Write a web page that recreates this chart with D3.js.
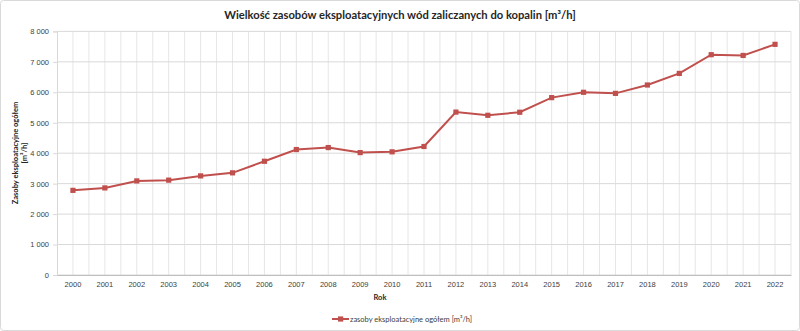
<!DOCTYPE html>
<html><head><meta charset="utf-8">
<script src="https://cdn.jsdelivr.net/npm/d3@7"></script>
<style>body{margin:0;background:#fff}svg{display:block}</style>
</head><body>
<script>
const years = ["2000","2001","2002","2003","2004","2005","2006","2007","2008","2009","2010","2011","2012","2013","2014","2015","2016","2017","2018","2019","2020","2021","2022"];
const values = [2780,2860,3090,3115,3255,3355,3735,4120,4185,4020,4045,4220,5350,5245,5345,5825,6000,5965,6240,6620,7235,7210,7575];
const yTicks = [0,1000,2000,3000,4000,5000,6000,7000,8000];
const title = "Wielkość zasobów eksploatacyjnych wód zaliczanych do kopalin [m³/h]";
const yTitle1 = "Zasoby eksploatacyjne ogółem";
const yTitle2 = "[m³/h]";
const xTitle = "Rok";
const seriesName = "zasoby eksploatacyjne ogółem [m³/h]";

const W=800,H=331, font="Lato, 'Open Sans', sans-serif";
const svg=d3.select("body").append("svg").attr("width",W).attr("height",H).style("font-family",font);
svg.append("rect").attr("x",0.5).attr("y",0.5).attr("width",W-1).attr("height",H-1).attr("rx",3).attr("fill","#fff").attr("stroke","#d9d9d9");

const L=57,R=791,T=31.4,B=275;
const x=d3.scaleBand().domain(years).range([L,R]);
const y=d3.scaleLinear().domain([0,8000]).range([B,T]);

// vertical grid: at boundaries and centers
const g=svg.append("g");
const bw=x.bandwidth();
years.forEach(yr=>{
  const x0=x(yr);
  g.append("line").attr("x1",x0+bw/2).attr("x2",x0+bw/2).attr("y1",T).attr("y2",B).attr("stroke","#e6e6e6");
  g.append("line").attr("x1",x0+bw).attr("x2",x0+bw).attr("y1",T).attr("y2",B).attr("stroke","#e6e6e6");
});
yTicks.forEach(t=>{
  g.append("line").attr("x1",L).attr("x2",R).attr("y1",y(t)).attr("y2",y(t)).attr("stroke","#d9d9d9");
});

// axes
const fmt=v=>d3.format(",")(v).replace(/,/g," ");
const ya=svg.append("g").attr("transform",`translate(${L},0)`).call(d3.axisLeft(y).tickValues(yTicks).tickFormat(fmt).tickSize(4).tickPadding(4));
ya.select(".domain").attr("stroke","#d9d9d9");
ya.selectAll(".tick line").attr("stroke","#d9d9d9");
ya.selectAll("text").attr("font-size",7.5).attr("fill","#404040");

const xa=svg.append("g").attr("transform",`translate(0,${B})`).call(d3.axisBottom(x).tickSize(0).tickPadding(7));
xa.select(".domain").attr("stroke","#bfbfbf");
xa.selectAll("text").attr("font-size",7.5).attr("fill","#404040");

// line
const line=d3.line().x((d,i)=>x(years[i])+bw/2).y(d=>y(d));
svg.append("path").datum(values).attr("d",line).attr("fill","none").attr("stroke","#C0504D").attr("stroke-width",2);
svg.selectAll(".m").data(values).enter().append("rect")
  .attr("x",(d,i)=>x(years[i])+bw/2-2.6).attr("y",d=>y(d)-2.6).attr("width",5.2).attr("height",5.2).attr("fill","#C0504D");

// titles
svg.append("text").attr("x",400).attr("y",19).attr("text-anchor","middle").attr("font-size",11.2).attr("font-weight","bold").attr("fill","#262626").text(title);
svg.append("text").attr("x",380).attr("y",300).attr("text-anchor","middle").attr("font-size",7.5).attr("font-weight","bold").attr("fill","#262626").text(xTitle);
const yt=svg.append("text").attr("transform","translate(17.5,153) rotate(-90)").attr("text-anchor","middle").attr("font-size",7.5).attr("font-weight","bold").attr("fill","#262626");
yt.append("tspan").attr("x",0).attr("dy",0).text(yTitle1);
yt.append("tspan").attr("x",0).attr("dy",9.5).text(yTitle2);

// legend
const lg=svg.append("g");
lg.append("line").attr("x1",332).attr("x2",349).attr("y1",319).attr("y2",319).attr("stroke","#C0504D").attr("stroke-width",2);
lg.append("rect").attr("x",338).attr("y",316.4).attr("width",5.2).attr("height",5.2).attr("fill","#C0504D");
lg.append("text").attr("x",350).attr("y",322).attr("font-size",7.5).attr("fill","#404040").text(seriesName);
</script>
</body></html>
